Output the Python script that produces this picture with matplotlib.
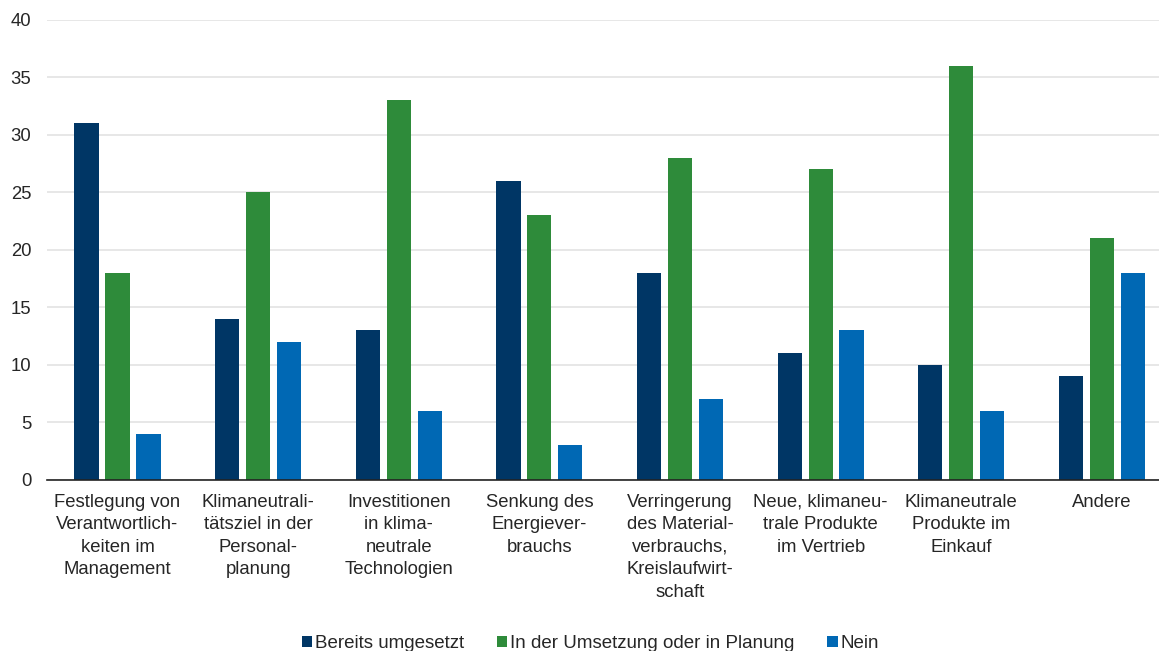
import numpy as np
import matplotlib
matplotlib.use('Agg')
from matplotlib import pyplot as plt
from matplotlib.patches import Patch

plt.rcParams['font.family'] = ['Liberation Sans', 'DejaVu Sans']

categories = [
    'Festlegung von\nVerantwortlich-\nkeiten im\nManagement',
    'Klimaneutrali-\ntätsziel in der\nPersonal-\nplanung',
    'Investitionen\nin klima-\nneutrale\nTechnologien',
    'Senkung des\nEnergiever-\nbrauchs',
    'Verringerung\ndes Material-\nverbrauchs,\nKreislaufwirt-\nschaft',
    'Neue, klimaneu-\ntrale Produkte\nim Vertrieb',
    'Klimaneutrale\nProdukte im\nEinkauf',
    'Andere',
]
bereits = [31, 14, 13, 26, 18, 11, 10, 9]
planung = [18, 25, 33, 23, 28, 27, 36, 21]
nein = [4, 12, 6, 3, 7, 13, 6, 18]

series = ['Bereits umgesetzt', 'In der Umsetzung oder in Planung', 'Nein']
colors = ['#003665', '#2e8b3a', '#0068b4']

fig = plt.figure(figsize=(11.59, 6.51), dpi=100)
ax = fig.add_axes([0.0407, 0.2627, 0.9707, 0.7066])

x = np.arange(len(categories))
w = 0.172
step = 0.22
for i, (vals, c) in enumerate(zip([bereits, planung, nein], colors)):
    ax.bar(x + (i - 1) * step, vals, width=w, color=c, zorder=3)

ax.set_xlim(-0.5, len(categories) - 0.5)
ax.set_ylim(0, 40)
ax.set_yticks(range(0, 41, 5))
ax.yaxis.grid(True, color='#e3e3e3', linewidth=1.2, zorder=0)
ax.set_xticks(x)
ax.set_xticklabels(categories, fontsize=13.3, color='#262626', linespacing=1.42)
ax.tick_params(axis='y', labelsize=13.3, labelcolor='#262626', length=0, pad=11.5)
ax.tick_params(axis='x', length=0, pad=10)
for s in ['top', 'right', 'left']:
    ax.spines[s].set_visible(False)
ax.spines['bottom'].set_color('#222222')
ax.spines['bottom'].set_linewidth(1.2)
ax.spines['bottom'].set_zorder(4)

handles = [Patch(facecolor=c, label=s) for s, c in zip(series, colors)]
fig.legend(handles=handles, loc='lower center', bbox_to_anchor=(0.5095, -0.028), ncol=3,
           frameon=False, fontsize=13.5, handlelength=0.55, handleheight=0.55,
           handletextpad=0.15, columnspacing=1.75, labelcolor='#262626')

fig.savefig('out.png', dpi=100)
